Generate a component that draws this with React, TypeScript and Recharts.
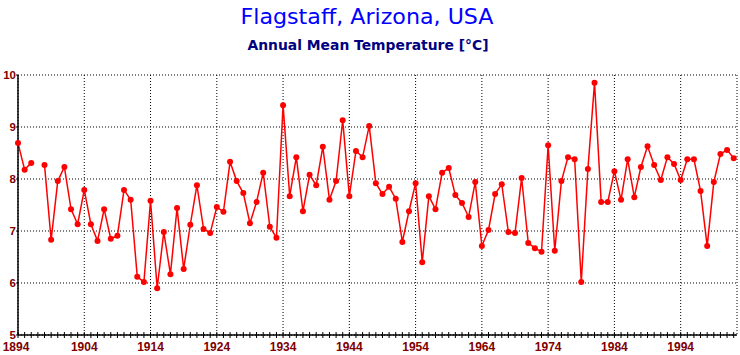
import React from 'react';
import { LineChart, Line, XAxis, YAxis, CartesianGrid } from 'recharts';

// annual mean temperature, Flagstaff AZ (1897 missing)
const years: number[] = Array.from({ length: 109 }, (_, i) => 1894 + i);

const temps: (number | null)[] = [
    8.69, 8.18, 8.31, null, 8.27, 6.83, 7.96, 8.23, 7.42, 7.13,
    7.79, 7.13, 6.81, 7.42, 6.85, 6.91, 7.79, 7.60, 6.12, 6.02,
    7.58, 5.90, 6.98, 6.17, 7.44, 6.27, 7.12, 7.88, 7.04, 6.96,
    7.46, 7.37, 8.33, 7.96, 7.73, 7.15, 7.56, 8.12, 7.08, 6.87,
    9.42, 7.67, 8.42, 7.38, 8.08, 7.88, 8.62, 7.60, 7.96, 9.13,
    7.67, 8.54, 8.42, 9.02, 7.92, 7.71, 7.85, 7.62, 6.79, 7.38,
    7.92, 6.40, 7.67, 7.42, 8.12, 8.21, 7.69, 7.54, 7.27, 7.94,
    6.71, 7.02, 7.71, 7.90, 6.98, 6.96, 8.02, 6.77, 6.67, 6.60,
    8.65, 6.62, 7.96, 8.42, 8.38, 6.02, 8.19, 9.85, 7.56, 7.56,
    8.15, 7.60, 8.38, 7.65, 8.23, 8.63, 8.27, 7.98, 8.42, 8.29,
    7.98, 8.38, 8.38, 7.77, 6.71, 7.94, 8.48, 8.56, 8.40,
];

const decadeLabels: number[] = [1894, 1904, 1914, 1924, 1934, 1944, 1954, 1964, 1974, 1984, 1994];
const gridYears: number[] = decadeLabels.slice(1);
const yTicks: number[] = [5, 6, 7, 8, 9, 10];

const data = years.map((year, i) => ({ year, temp: temps[i] }));

const LABEL_RED = '#800000';
const X_DOMAIN: [number, number] = [1894, 2002.5];

const YearTick = (props: any) => {
    const { x, y, payload } = props;
    const showLabel = decadeLabels.includes(payload.value);
    // first label sits a little left, like the original
    const lx = payload.value === decadeLabels[0] ? x - 2 : x;
    return (
        <g>
            <line x1={x} x2={x} y1={y - 3} y2={y + 3} stroke="#000" strokeWidth={1} />
            {showLabel && (
                <text x={lx} y={y + 15.5} textAnchor="middle" fill={LABEL_RED}
                    fontFamily="Liberation Sans, Arial, sans-serif" fontWeight="bold" fontSize={12}>
                    {payload.value}
                </text>
            )}
        </g>
    );
};

const App: React.FC = () => {
    return (
        <div style={{ position: 'absolute', left: 0, top: 0, width: 740, height: 355, background: '#fff' }}>
            <svg width={740} height={70} style={{ position: 'absolute', left: 0, top: 0 }}>
                <text x={367} y={24} textAnchor="middle" fill="#0000ff" fontFamily="DejaVu Sans, sans-serif"
                    fontSize={22} textLength={253} lengthAdjust="spacingAndGlyphs">
                    Flagstaff, Arizona, USA
                </text>
                <text x={368} y={50} textAnchor="middle" fill="#000080" fontFamily="DejaVu Sans, sans-serif"
                    fontWeight="bold" fontSize={14} textLength={241} lengthAdjust="spacingAndGlyphs">
                    Annual Mean Temperature [°C]
                </text>
            </svg>
            <div style={{ position: 'absolute', left: 0, top: 0 }}>
                <LineChart width={740} height={355} data={data} margin={{ top: 75, right: 3, bottom: 0, left: 0 }}>
                    <CartesianGrid stroke="#000" strokeDasharray="1 2" xAxisId="grid" />
                    <XAxis xAxisId="grid" dataKey="year" type="number" domain={X_DOMAIN} ticks={gridYears} hide />
                    <XAxis
                        dataKey="year"
                        type="number"
                        domain={X_DOMAIN}
                        ticks={years}
                        interval={0}
                        tick={<YearTick />}
                        tickSize={0}
                        tickMargin={0}
                        tickLine={false}
                        height={20}
                        axisLine={{ stroke: '#000', strokeWidth: 1.5 }}
                    />
                    <YAxis
                        domain={[5, 10]}
                        ticks={yTicks}
                        interval={0}
                        width={18}
                        tickSize={2}
                        tickMargin={0}
                        tickLine={{ stroke: '#000' }}
                        axisLine={{ stroke: '#000', strokeWidth: 1.5 }}
                        tick={{ fill: LABEL_RED, fontSize: 11.5, fontWeight: 'bold', fontFamily: 'Liberation Sans, Arial, sans-serif' }}
                    />
                    <Line
                        type="linear"
                        dataKey="temp"
                        stroke="#ff0000"
                        strokeWidth={1.5}
                        dot={{ r: 3, fill: '#ff0000', stroke: 'none' }}
                        activeDot={false}
                        connectNulls={false}
                        isAnimationActive={false}
                    />
                </LineChart>
            </div>
        </div>
    );
};

export default App;
